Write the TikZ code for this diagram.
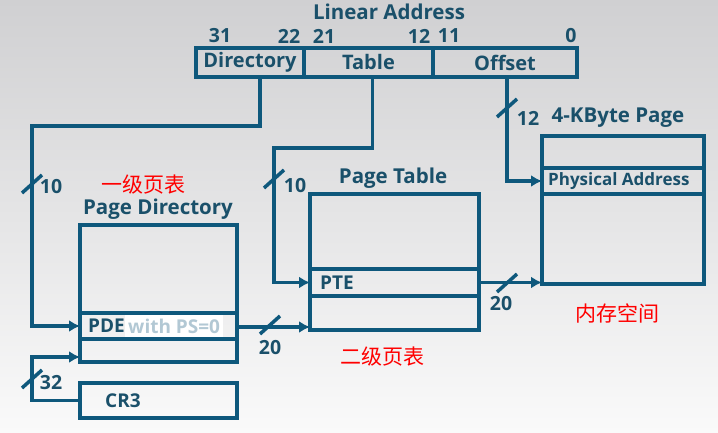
\documentclass[tikz,border=0pt]{standalone}
\usepackage{fontspec}
\setmainfont{Open Sans}
\newfontfamily\cjk{Noto Sans CJK SC}
\usepackage{xcolor}
\usetikzlibrary{arrows.meta,positioning}
\definecolor{lineblue}{RGB}{14,88,124}
\definecolor{textblue}{RGB}{26,80,106}
\definecolor{fadeblue}{RGB}{178,200,212}
\definecolor{bgtop}{RGB}{208,208,210}
\definecolor{bgbot}{RGB}{250,250,250}
\newcommand{\busmark}[1]{\draw[buswire] ([shift={(-10,9)}]#1) -- ([shift={(10,-9)}]#1);}

\begin{document}
\begin{tikzpicture}[x=1pt, y=-1pt,
              cell/.style={draw=lineblue, line width=3.5pt, inner sep=0pt, outer sep=0pt, text=textblue,
                           font=\bfseries\fontsize{20}{22}\selectfont},
              rowtext/.style={anchor=west, inner sep=0pt, text=textblue, font=\bfseries\fontsize{19}{21}\selectfont},
              title/.style={text=textblue, font=\bfseries\fontsize{20.5}{23}\selectfont},
              num/.style={text=textblue, font=\bfseries\fontsize{19.5}{22}\selectfont},
              cnote/.style={text=red, font=\cjk\fontsize{21}{24}\selectfont},
              link/.style={draw=lineblue, line width=3.5pt, -{Latex[length=11pt,width=12pt]}},
              buswire/.style={draw=lineblue, line width=3.5pt},
             ]
% background
\shade[top color=bgtop, bottom color=bgbot] (0,0) rectangle (718,433);
\useasboundingbox (0,0) rectangle (718,433);

% linear address
\node[title] (latitle) at (389,12) {Linear Address};
\node[cell, minimum width=108, minimum height=29, anchor=north west] (dir) at (196,48) {Directory};
\node[cell, minimum width=129, minimum height=29, right=0pt of dir] (tbl) {Table};
\node[cell, minimum width=144, minimum height=29, right=0pt of tbl] (off) {Offset};
\node[num] (b31) at (220,36) {31};
\node[num] (b22) at (289,36) {22};
\node[num] (b21) at (324,36) {21};
\node[num] (b12) at (419,36) {12};
\node[num] (b11) at (449,36) {11};
\node[num] (b0) at (571,36) {0};

% page directory
\node[cnote] (pdnote) at (143,185) {一级页表};
\node[title] (pdtitle) at (158,209) {Page Directory};
\node[cell, minimum width=157, minimum height=88, anchor=north west] (pdtop) at (80,225) {};
\node[cell, minimum width=157, minimum height=26, below=0pt of pdtop] (pde) {};
\node[cell, minimum width=157, minimum height=23, below=0pt of pde] (pdbot) {};
\node[rowtext] (pdetext) at ([xshift=8pt]pde.west) {PDE};
\node[rowtext, fill=white, text=fadeblue, minimum height=22pt, inner xsep=3pt] (psnote) at (pdetext.east) {with PS=0};
\node[cell, minimum width=157, minimum height=35, anchor=north west] (cr3) at (80,383) {};
\node[rowtext] (cr3text) at ([xshift=25pt]cr3.west) {CR3};

% page table
\node[title] (pttitle) at (393,178) {Page Table};
\node[cell, minimum width=169, minimum height=75, anchor=north west] (pttop) at (310,194) {};
\node[cell, minimum width=169, minimum height=27, below=0pt of pttop] (pte) {};
\node[cell, minimum width=169, minimum height=34, below=0pt of pte] (ptbot) {};
\node[rowtext] (ptetext) at ([xshift=10pt]pte.west) {PTE};
\node[cnote] (ptnote) at (382,357) {二级页表};

% 4-KByte page
\node[title] (pgtitle) at (618,118) {4-KByte Page};
\node[cell, minimum width=162, minimum height=32, anchor=north west] (pgtop) at (542,136) {};
\node[cell, minimum width=162, minimum height=26, below=0pt of pgtop] (phys) {};
\node[cell, minimum width=162, minimum height=90, below=0pt of phys] (pgbot) {};
\node[rowtext, font=\bfseries\fontsize{17}{19}\selectfont] (phystext) at ([xshift=6pt]phys.west) {Physical Address};
\node[cnote] (memnote) at (617,313) {内存空间};

% connectors
\coordinate (dturn) at (32,126);
\coordinate (tturn) at (274,148);
\coordinate (cturn) at (32,357);
\draw[link] ([xshift=10pt]dir.south) |- (dturn) |- (pde.west);
\draw[link] ([xshift=4pt]tbl.south) |- (tturn) |- (pte.west);
\draw[link] ([xshift=2pt]off.south) |- (phys.west);
\draw[link] ([yshift=-1pt]pde.east) -- ([yshift=-1pt]pde.east -| ptbot.west);
\draw[link] (pte.east) -- (pte.east -| pgbot.west);
\draw[link] (cr3.west) -| (cturn) -- (cturn -| pdbot.west);

% bus widths
\coordinate (w1) at (32,184);
\coordinate (w2) at (274,179);
\coordinate (w3) at (507,108);
\coordinate (w4) at (270,325);
\coordinate (w5) at (507,283);
\coordinate (w6) at (32,379);
\busmark{w1} \busmark{w2} \busmark{w3} \busmark{w4} \busmark{w5} \busmark{w6}
\node[num] (n1) at (51,187) {10};
\node[num] (n2) at (295,186) {10};
\node[num] (n3) at (528,118) {12};
\node[num] (n4) at (270,348) {20};
\node[num] (n5) at (501,304) {20};
\node[num] (n6) at (51,383) {32};
\end{tikzpicture}
\end{document}
